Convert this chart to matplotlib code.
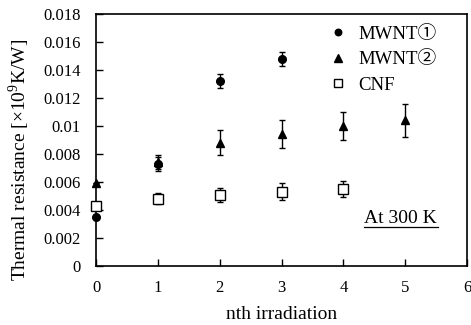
import matplotlib
matplotlib.use("Agg")
import matplotlib.pyplot as plt

plt.rcParams['font.family'] = ['Liberation Serif', 'Noto Sans CJK JP', 'DejaVu Sans']
plt.rcParams['mathtext.fontset'] = 'custom'
plt.rcParams['mathtext.rm'] = 'Liberation Serif'

# data
mw1_x = [0, 1, 2, 3]
mw1_y = [0.0035, 0.0073, 0.0132, 0.0148]
mw1_e = [0.0, 0.0005, 0.0005, 0.0005]

mw2_x = [0, 1, 2, 3, 4, 5]
mw2_y = [0.0059, 0.0074, 0.0088, 0.0094, 0.0100, 0.0104]
mw2_e = [0.0, 0.0005, 0.0009, 0.0010, 0.0010, 0.0012]

cnf_x = [0, 1, 2, 3, 4]
cnf_y = [0.0043, 0.0048, 0.0051, 0.0053, 0.0055]
cnf_e = [0.0, 0.0004, 0.0005, 0.0006, 0.0006]

xticks = [0, 1, 2, 3, 4, 5, 6]
yticks = [0, 0.002, 0.004, 0.006, 0.008, 0.01, 0.012, 0.014, 0.016, 0.018]
ytick_labels = ['0', '0.002', '0.004', '0.006', '0.008', '0.01', '0.012', '0.014', '0.016', '0.018']

fig = plt.figure(figsize=(4.71, 3.25), dpi=100)
ax = fig.add_axes([0.204, 0.1815, 0.7875, 0.7755])

ekw = dict(ecolor='black', elinewidth=1, capsize=2.5, capthick=1, linestyle='none', clip_on=False)
ax.errorbar(mw2_x, mw2_y, yerr=mw2_e, fmt='^', color='black', markersize=6, label='MWNT②', zorder=3, **ekw)
ax.errorbar(mw1_x, mw1_y, yerr=mw1_e, fmt='o', color='black', markersize=5.5, label='MWNT①', zorder=4, **ekw)
ax.errorbar(cnf_x, cnf_y, yerr=cnf_e, fmt='s', markerfacecolor='white', markeredgecolor='black',
            markeredgewidth=1, markersize=7, label='CNF', zorder=5, **ekw)

ax.set_xlim(0, 6)
ax.set_ylim(0, 0.018)
ax.set_xticks(xticks)
ax.set_xticklabels([str(t) for t in xticks])
ax.set_yticks(yticks)
ax.set_yticklabels(ytick_labels)
ax.tick_params(direction='in', labelsize=12, length=5, width=1)
ax.tick_params(axis='y', pad=11)
ax.tick_params(axis='x', pad=10)
for s in ax.spines.values():
    s.set_linewidth(1.2)

ax.set_xlabel('nth irradiation', fontsize=14, labelpad=7)
ax.set_ylabel('Thermal resistance [×10$^{9}$K/W]', fontsize=14)
ax.yaxis.set_label_coords(-0.172, 0.42)

handles, labels = ax.get_legend_handles_labels()
order = [1, 0, 2]
leg = ax.legend([handles[i][0] for i in order], [labels[i] for i in order],
                loc='upper left', bbox_to_anchor=(0.576, 1.02), frameon=False,
                fontsize=13.5, handlelength=1.2, handletextpad=0.5, labelspacing=0.45,
                markerscale=0.85)

ax.text(0.722, 0.171, 'At 300 K', transform=ax.transAxes, fontsize=14, ha='left', va='baseline')
ax.plot([0.722, 0.922], [0.155, 0.155], transform=ax.transAxes, color='black', lw=0.9)

fig.savefig('out.png', dpi=100)
